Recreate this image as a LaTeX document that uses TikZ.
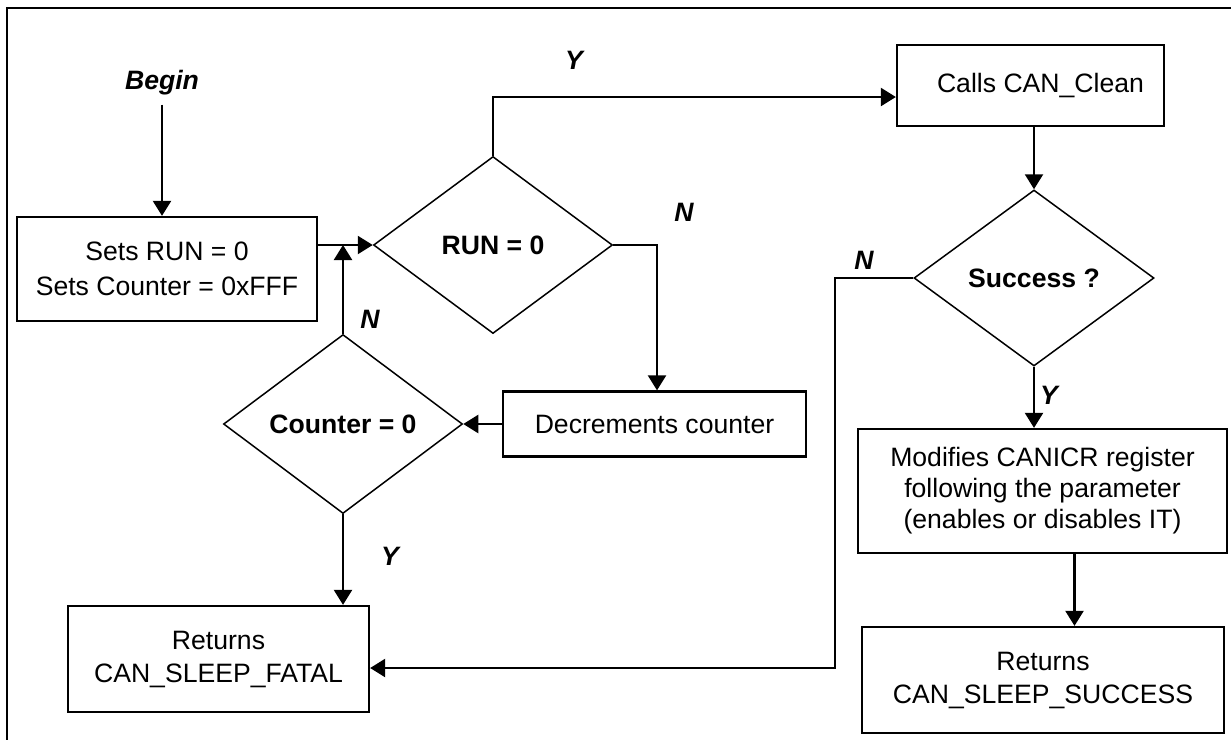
\documentclass[tikz,border=0pt]{standalone}
\usepackage{fontspec}
\setmainfont{Liberation Sans}
\usetikzlibrary{arrows.meta,shapes.geometric}
\begin{document}
\begin{tikzpicture}[x=1pt,y=-1pt,
  every node/.style={font=\fontsize{26.6}{33}\selectfont},
  procbox/.style={draw,line width=2.3pt,rectangle,inner sep=0pt,align=center},
  decision/.style={draw,line width=1.5pt,diamond,inner sep=0pt,font=\fontsize{26.6}{32}\selectfont\bfseries},
  lbl/.style={font=\fontsize{26.6}{32}\selectfont\bfseries\itshape,inner sep=0pt},
  conn/.style={line width=2.3pt},
  arr/.style={conn,-{Triangle[length=15pt,width=18pt]}}
]
\useasboundingbox (0,0) rectangle (1231,740);
\draw[line width=2.6pt] (1231,8) -- (7,8) -- (7,740);

\node[lbl,anchor=base] (begin) at (162,89) {Begin};
\node[procbox,minimum width=300pt,minimum height=104pt] (init) at (167,269) {Sets RUN = 0\\[2pt]Sets Counter = 0xFFF};
\node[decision,minimum width=239pt,minimum height=177pt] (run) at (493,245) {RUN = 0};
\node[procbox,minimum width=267pt,minimum height=81pt] (clean) at (1030.5,85.5) {\hspace*{20pt}Calls CAN\_Clean};
\node[decision,minimum width=240pt,minimum height=176pt] (succ) at (1034,278) {Success ?};
\node[procbox,minimum width=303pt,minimum height=65pt] (dec) at (654.5,424) {Decrements counter};
\node[decision,minimum width=239pt,minimum height=179pt] (cnt) at (343,424) {Counter = 0};
\node[procbox,minimum width=301pt,minimum height=106pt] (fatal) at (218.5,659) {Returns\\CAN\_SLEEP\_FATAL};
\node[procbox,minimum width=369pt,minimum height=124pt,font=\fontsize{26.6}{31}\selectfont] (mod) at (1042.5,491) {Modifies CANICR register\\following the parameter\\(enables or disables IT)};
\node[procbox,minimum width=362pt,minimum height=106pt] (ok) at (1043,680) {Returns\\CAN\_SLEEP\_SUCCESS};

\coordinate (ytop) at (493,97);
\coordinate (nrun) at (657,245);
\coordinate (nsucc) at (835,278);
\coordinate (nfatal) at (835,668);

\draw[arr,shorten <=10pt] (begin.south) -- (begin.south |- init.north);
\draw[arr] (init.east |- run.west) -- (run.west);
\draw[arr] (run.north) -- (ytop) -- (clean.west |- ytop);
\draw[arr] (run.east) -- (nrun) -- (nrun |- dec.north);
\draw[arr] (dec.west) -- (cnt.east);
\draw[arr] (cnt.north) -- (cnt.north |- run.west);
\draw[arr] (cnt.south) -- (cnt.south |- fatal.north);
\draw[arr] (succ.west) -- (nsucc) -- (nfatal) -- (nfatal -| fatal.east);
\draw[arr] (succ.north |- clean.south) -- (succ.north);
\draw[arr] (succ.south) -- (succ.south |- mod.north);
\draw[arr] ([xshift=32pt]mod.south) -- ([xshift=32pt]mod.south |- ok.north);

\node[lbl] (ly1) at (574,60) {Y};
\node[lbl] (ln1) at (684,212) {N};
\node[lbl] (ln2) at (370,319) {N};
\node[lbl] (ly2) at (390,556) {Y};
\node[lbl] (ln3) at (864,260) {N};
\node[lbl] (ly3) at (1049,395) {Y};
\end{tikzpicture}
\end{document}
